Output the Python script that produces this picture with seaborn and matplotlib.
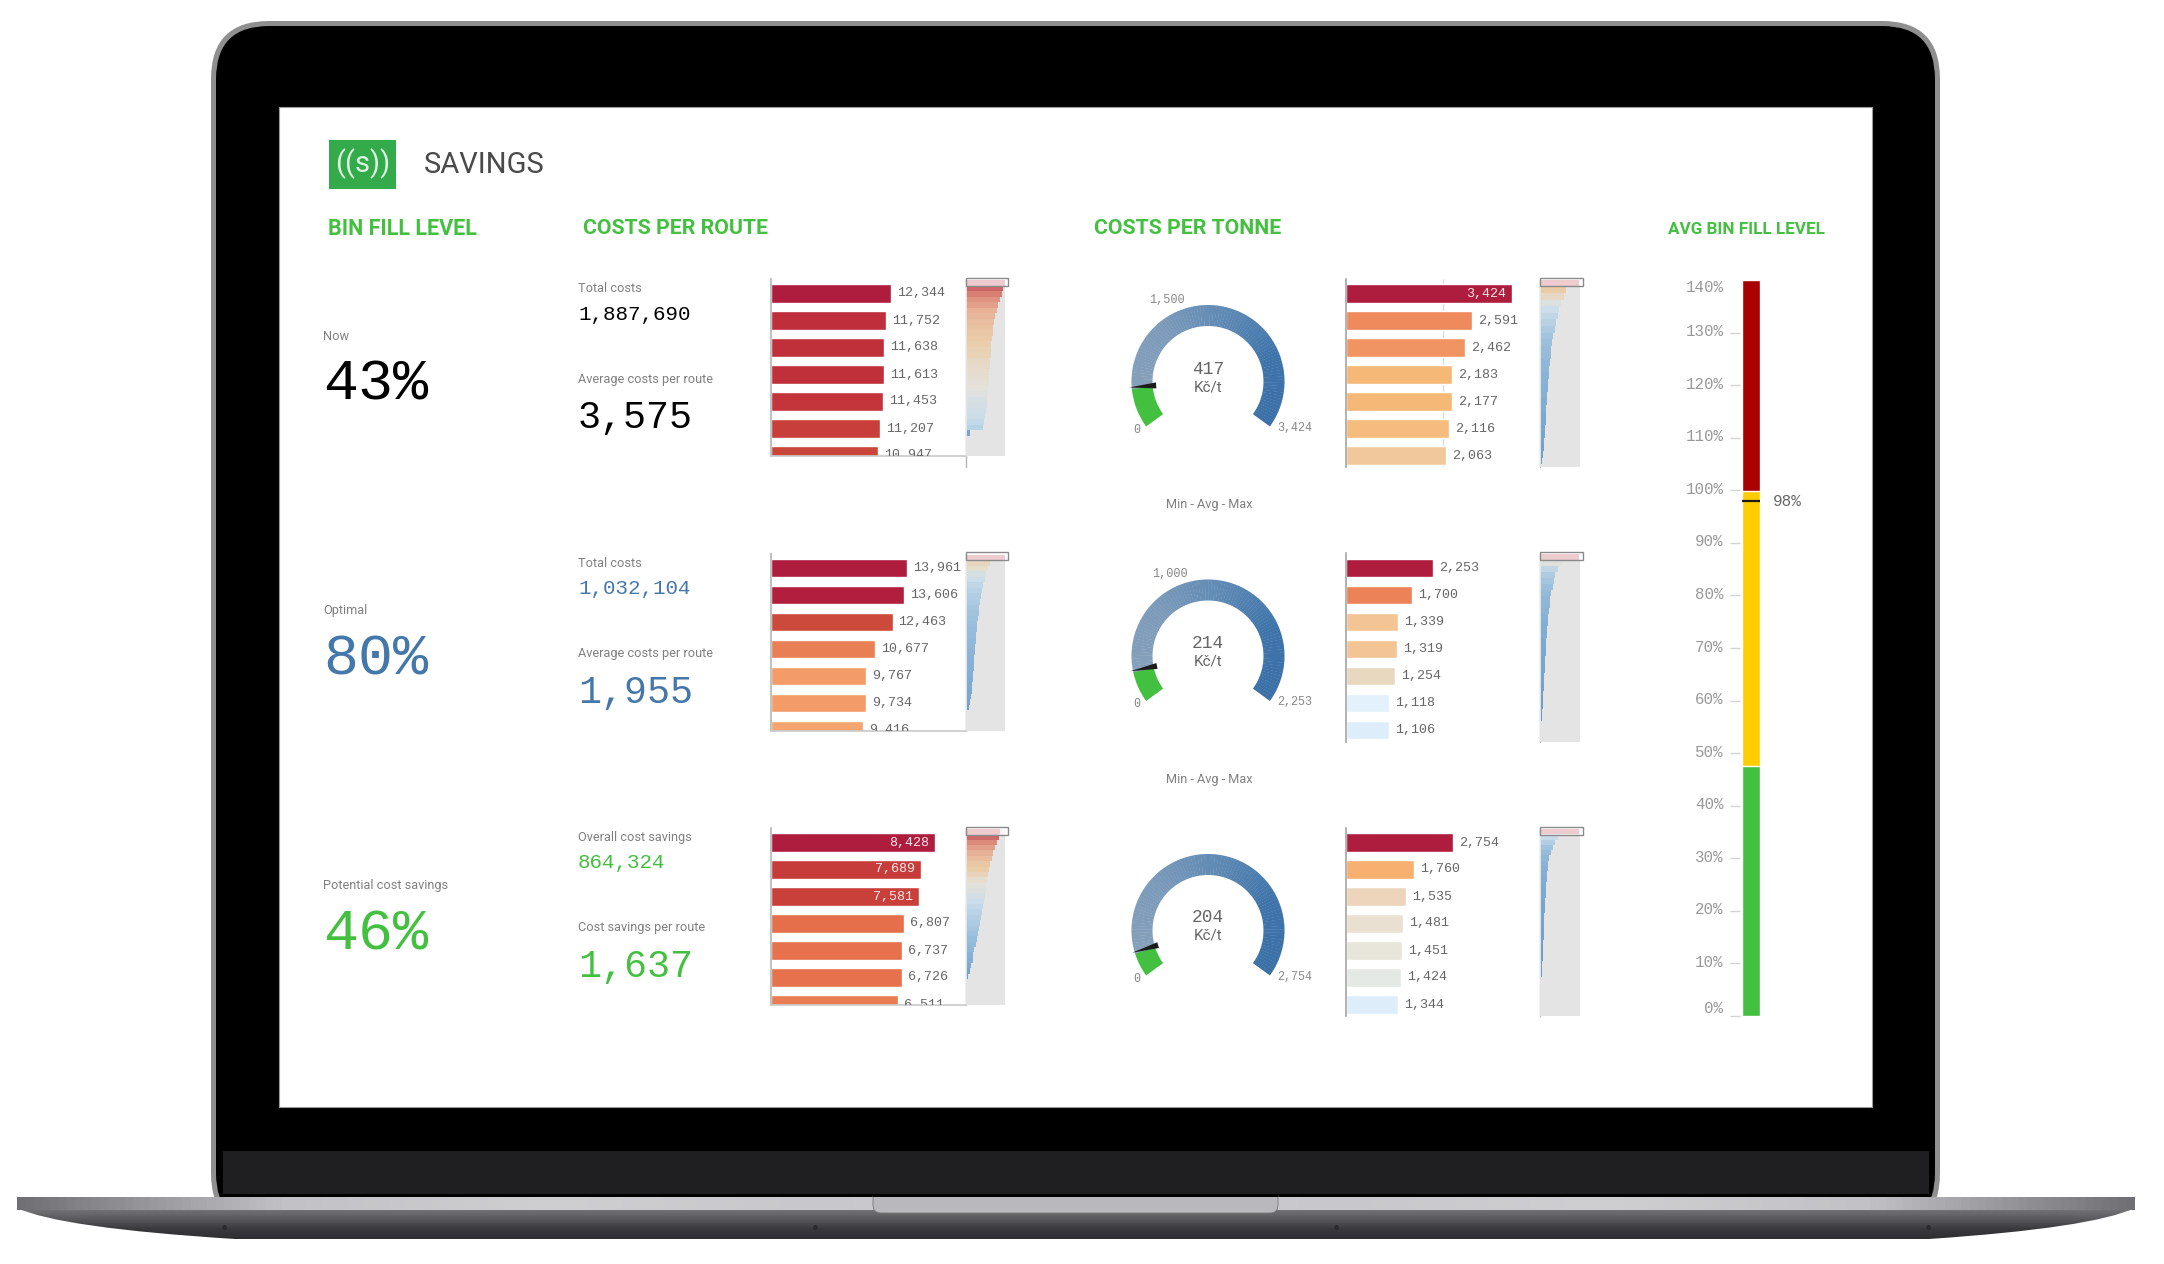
import numpy as np
import matplotlib
matplotlib.use('Agg')
import matplotlib.pyplot as plt
import seaborn as sns
from matplotlib.colors import LinearSegmentedColormap, TwoSlopeNorm, to_hex
from matplotlib.patches import FancyBboxPatch, PathPatch, Polygon, Rectangle, Wedge
from matplotlib.path import Path
from matplotlib.transforms import ScaledTranslation

W, H = 2164, 1264
MONO = 'Liberation Mono'
SANS = 'Roboto'
GREEN = '#44c040'
BLUE = '#4477aa'
ROW_STEP = 274.5

# kpi column
fill_labels = ['Now', 'Optimal', 'Potential cost savings']
fill_values = ['43%', '80%', '46%']
row_colors = ['#000000', BLUE, GREEN]
total_labels = ['Total costs', 'Total costs', 'Overall cost savings']
total_values = ['1,887,690', '1,032,104', '864,324']
avg_labels = ['Average costs per route', 'Average costs per route', 'Cost savings per route']
avg_values = ['3,575', '1,955', '1,637']

# bar charts
route_values = [
    [12344, 11752, 11638, 11613, 11453, 11207, 10947],
    [13961, 13606, 12463, 10677, 9767, 9734, 9416],
    [8428, 7689, 7581, 6807, 6737, 6726, 6511],
]
route_colors = [
    ['#ae1c3e', '#bf2e3b', '#c0303b', '#c0303b', '#c3343b', '#c73e3a', '#c9463b'],
    ['#ae1c3e', '#b21f3e', '#cc4a3b', '#e87f55', '#f39c68', '#f39c68', '#f4a46f'],
    ['#ae1c3e', '#c63c3a', '#c9403a', '#e56f4b', '#e6714c', '#e6714c', '#e87c52'],
]
route_max = [20000, 20000, 10000]
route_inside = [0, 0, 3]

tonne_values = [
    [3424, 2591, 2462, 2183, 2177, 2116, 2063],
    [2253, 1700, 1339, 1319, 1254, 1118, 1106],
    [2754, 1760, 1535, 1481, 1451, 1424, 1344],
]
tonne_colors = [
    ['#ae1c3e', '#ee8a5c', '#f09562', '#f6b876', '#f6b876', '#f5bc7e', '#f1c89c'],
    ['#ae1c3e', '#ec8257', '#f3c595', '#f3c595', '#e8d8c0', '#e2f1fb', '#ddeefa'],
    ['#ae1c3e', '#f7b070', '#ecd5bb', '#e9e0d2', '#e8e5da', '#e5e9e6', '#ddeefa'],
]
tonne_max = [4000, 5000, 5000]
tonne_inside = [1, 0, 0]
tonne_grid = [[2000], [], []]

# overview strips next to the bar charts, read row by row
route_mini = [
    [12344, 11900, 11350, 10690, 10250, 9700, 9260, 8930, 8600, 8380, 8150, 7930, 7820, 7710,
     7490, 7380, 7270, 7160, 7050, 6940, 6720, 6500, 6390, 6170, 5950, 5620, 5070, 990],
    [13961, 8330, 7860, 6920, 6450, 5870, 5510, 5160, 4810, 4460, 4220, 3990, 3750, 3520,
     3400, 3170, 3050, 2820, 2580, 2460, 2350, 2110, 1990, 1760, 1640, 1410, 1170, 590],
    [8428, 8080, 7570, 7140, 6710, 6280, 5930, 5680, 5420, 5160, 4900, 4730, 4470, 4210,
     3960, 3700, 3440, 3180, 2920, 2670, 2410, 2150, 1890, 1630, 1380, 1030, 690, 170],
]
route_mini_mid = [7000, 7600, 5000]
route_mini_fill = [0.885, 0.885, 0.853]
route_mini_right = [1.02, 1.02, 1.17]

tonne_mini = [
    [3424, 2217, 2020, 1790, 1630, 1470, 1340, 1210, 1080, 980, 910, 850, 780, 720,
     680, 620, 590, 550, 490, 460, 420, 390, 330, 290, 260, 200, 130, 70],
    [2253, 1270, 1000, 840, 745, 670, 590, 530, 490, 450, 410, 370, 350, 330,
     290, 270, 250, 235, 215, 195, 175, 155, 135, 120, 100, 80, 40, 20],
    [2754, 1220, 990, 820, 680, 590, 520, 470, 420, 380, 350, 330, 305, 280,
     260, 235, 210, 205, 190, 165, 160, 140, 120, 115, 95, 70, 50, 25],
]
tonne_mini_mid = [1900, 1300, 1500]
tonne_mini_fill = [0.985, 0.89, 0.79]

# gauges
gauge_avg = [417, 214, 204]
gauge_max = [3424, 2253, 2754]
gauge_mid = [1500, 1000, None]
gauge_notes = ['Min - Avg - Max', 'Min - Avg - Max', None]

# thermometer
level_ticks = list(range(0, 150, 10))
level_limits = [140, 99.8, 47.6]
level_colors = ['#ab0000', '#ffcc00', GREEN]
level_now = 98

sns.set_theme(style='white')
plt.rcParams['font.family'] = [SANS, 'DejaVu Sans']

fig = plt.figure(figsize=(W / 100, H / 100), dpi=100, facecolor='white')
frame = fig.add_axes([0, 0, 1, 1], zorder=0)

mini_cmap = LinearSegmentedColormap.from_list('mini', [
    (0, '#4f8fc6'), (0.25, '#8db8da'), (0.42, '#c5dcec'), (0.5, '#e4e2d8'),
    (0.6, '#ecc89e'), (0.75, '#e8a98a'), (0.9, '#d8705f'), (1, '#bf3a4a')])


def px_axes(x0, y0, x1, y1, zorder=2):
    return fig.add_axes([x0 / W, 1 - y1 / H, (x1 - x0) / W, (y1 - y0) / H], zorder=zorder)


def label(x, y, s, size, color='#808080', family=SANS, **kw):
    kw.setdefault('va', 'center')
    frame.text(x, y, s, fontsize=size, color=color, family=family, zorder=20, **kw)


def gradient(x0, x1, y0, y1, colors, vertical=False, zorder=3, clip=None):
    cmap = LinearSegmentedColormap.from_list('g', colors)
    ramp = np.linspace(0, 1, 256).reshape(-1, 1) if vertical else np.linspace(0, 1, 256).reshape(1, -1)
    im = frame.imshow(ramp, extent=[x0, x1, y1, y0], aspect='auto', cmap=cmap, zorder=zorder)
    if clip is not None:
        im.set_clip_path(clip)
    return im


def draw_laptop():
    frame.add_patch(FancyBboxPatch((211, 21), 1729, 1210, boxstyle='round,pad=0,rounding_size=58',
                                   fc='#8f8f8f', ec='none', zorder=1))
    frame.add_patch(FancyBboxPatch((216, 26), 1719, 1200, boxstyle='round,pad=0,rounding_size=53',
                                   fc='#000000', ec='none', zorder=1))
    frame.add_patch(Rectangle((279, 107), 1593, 1000, fc='white', ec='#9a9a9a', lw=0.8, zorder=2))
    # base
    shape = Path([(17, 1208), (60, 1228), (235, 1239), (1929, 1239), (2092, 1228), (2135, 1208), (17, 1208)],
                 [Path.MOVETO, Path.CURVE3, Path.CURVE3, Path.LINETO, Path.CURVE3, Path.CURVE3, Path.CLOSEPOLY])
    patch = PathPatch(shape, fc='none', ec='none', transform=frame.transData)
    frame.add_patch(patch)
    gradient(17, 2135, 1208, 1239, ['#77777a', '#5c5c60', '#3a3a3e', '#2e2e32'], vertical=True, clip=patch)
    frame.add_patch(Rectangle((0, 1239), W, 25, fc='white', ec='none', zorder=4))
    gradient(17, 2135, 1197, 1210, ['#707074', '#c2c2c6', '#cfcfd2', '#c8c8cc', '#cfcfd2', '#c8c8cc',
                                    '#cfcfd2', '#c2c2c6', '#707074'], zorder=5)
    frame.add_patch(FancyBboxPatch((873, 1190), 405, 23, boxstyle='round,pad=0,rounding_size=8',
                                   fc='#b9b9bd', ec='#77777a', lw=0.6, zorder=6))
    frame.add_patch(Rectangle((873, 1180), 405, 17, fc='#000000', ec='none', zorder=7))
    frame.add_patch(Rectangle((223, 1151), 1706, 43, fc='#1f1f22', ec='none', zorder=8))
    for sx in [224, 815, 1336, 1928]:
        frame.plot([sx], [1227], 'o', ms=2.5, color='#2a2a2d', zorder=9)
    frame.set_xlim(0, W)
    frame.set_ylim(H, 0)
    frame.axis('off')


def draw_bars(x0, x1, y0, y1, values, colors, xmax, inside, grid=()):
    ax = px_axes(x0, y0, x1, y1)
    names = [f'r{i}' for i in range(len(values))]
    sns.barplot(x=values, y=names, hue=names, palette=colors, dodge=False, legend=False,
                width=0.69, saturation=1, orient='h', ax=ax)
    for v in grid:
        ax.axvline(v, color='#dddddd', lw=1, zorder=0)
    ax.set_xlim(0, xmax)
    ax.set_ylim((y1 - 293.5 - (y0 - 279)) / 27, -(293.5 - 279) / 27)
    ax.set_xticks([])
    ax.set_yticks([])
    ax.set_xlabel('')
    ax.set_ylabel('')
    ax.patch.set_alpha(0)
    pad = xmax * 6 / (x1 - x0)
    for i, v in enumerate(values):
        if i < inside:
            ax.text(v - pad, i, f'{v:,}', ha='right', va='center', fontsize=9.6, color='#f7eaea',
                    family=MONO, clip_on=True)
        else:
            ax.text(v + pad, i, f'{v:,}', ha='left', va='center', fontsize=9.6, color='#666666',
                    family=MONO, clip_on=True)
    return ax


def draw_mini(x0, x1, y0, y1, values, mid, fill, right):
    ax = px_axes(x0, y0, x1, y1)
    ax.set_facecolor('#e4e4e4')
    vmax = values[0]
    norm = TwoSlopeNorm(vmin=0, vcenter=mid, vmax=vmax)
    colors = [to_hex(mini_cmap(norm(v))) for v in values]
    names = [f'm{i}' for i in range(len(values))]
    sns.barplot(x=values, y=names, hue=names, palette=colors, dodge=False, legend=False,
                width=1, saturation=1, orient='h', alpha=0.85, linewidth=0, ax=ax)
    ax.set_xlim(-0.035 * vmax, right * vmax)
    ax.set_ylim(len(values) / fill - 0.5, -0.5)
    ax.set_xticks([])
    ax.set_yticks([])
    ax.set_xlabel('')
    ax.set_ylabel('')
    for side in ax.spines.values():
        side.set_visible(False)
    frame.plot([x0, x0], [y0, max(y1, 467 + (y1 - 456) if y1 < 467 else y1)], color='#b5b5b5', lw=1, zorder=3)
    # selection handle
    box = Rectangle((x0 / W, 1 - (y0 + 5.5) / H), (x1 + 2.5 - x0) / W, 7.5 / H, transform=fig.transFigure,
                    fc=(1, 1, 1, 0.7), ec='#8a8a8a', lw=1, zorder=6)
    fig.add_artist(box)


def draw_gauge(cx, cy, avg, vmax, mid):
    ax = px_axes(cx - 100, cy - 100, cx + 100, cy + 100)
    ax.set_xlim(-100, 100)
    ax.set_ylim(-100, 100)
    ax.axis('off')
    R, thick = 76.5, 21

    def angle(v):
        return 216 - v / vmax * 252

    ax.add_patch(Wedge((0, 0), R, angle(avg), angle(0), width=thick, fc=GREEN, ec='none'))
    cmap = LinearSegmentedColormap.from_list('arc', ['#86a0ba', '#7c9aba', '#5f8ab4', '#3f74aa', '#3c71a8'])
    steps = np.linspace(avg, vmax, 90)
    for i in range(len(steps) - 1):
        ax.add_patch(Wedge((0, 0), R, angle(steps[i + 1]), angle(steps[i]) + 0.3, width=thick,
                           fc=cmap(i / 88), ec='none'))
    a = np.deg2rad(angle(avg) - 1)
    d = np.array([np.cos(a), np.sin(a)])
    n = np.array([-d[1], d[0]])
    ax.add_patch(Polygon([d * 79, d * 52 + n * 3, d * 52 - n * 3], fc='#1c1c1c', ec='none', zorder=5))
    ax.text(0, 12.5, f'{avg}', ha='center', va='center', fontsize=12.9, color='#666666', family=MONO)
    ax.text(0, -5.5, 'Kč/t', ha='center', va='center', fontsize=11, color='#666666', family=SANS)
    ax.text(-71, -48.5, '0', ha='center', va='center', fontsize=8.4, color='#888888', family=MONO)
    ax.text(69, -46.5, f'{vmax:,}', ha='left', va='center', fontsize=8.4, color='#888888', family=MONO)
    if mid is not None:
        m = np.deg2rad(angle(mid))
        ax.text(85 * np.cos(m), 85 * np.sin(m), f'{mid:,}', ha='right', va='center', fontsize=8.6,
                color='#888888', family=MONO)


def draw_level():
    ax = px_axes(1740, 280, 1760, 1016)
    for lim, col in zip(level_limits, level_colors):
        sns.barplot(x=['fill'], y=[lim], color=col, width=1, saturation=1, ax=ax)
    ax.plot([-0.5, 0.5], [level_now, level_now], color='#1a1a1a', lw=1.6, solid_capstyle='butt')
    ax.set_xlim(-0.611, 0.5)
    ax.set_ylim(0, 140)
    ax.set_xticks([])
    ax.set_xlabel('')
    ax.set_ylabel('')
    ax.set_yticks(level_ticks)
    ax.set_yticklabels([f'{t}%' for t in level_ticks], family=MONO, fontsize=11.3, color='#999999')
    ax.tick_params(axis='y', length=7, width=1, color='#d4d4d4', pad=5, left=True)
    ticks = ax.get_yticklabels()
    for lab in ticks[1:-1]:
        lab.set_transform(lab.get_transform() + ScaledTranslation(0, 0.025, fig.dpi_scale_trans))
    ticks[0].set_va('bottom')
    ticks[-1].set_va('top')
    ax.yaxis.get_major_ticks()[-1].tick1line.set_visible(False)
    ax.patch.set_alpha(0)
    for side in ax.spines.values():
        side.set_visible(False)
    label(1773, 501, f'{level_now}%', 11.5, color='#666666', family=MONO)


draw_laptop()

# header
frame.add_patch(Rectangle((329, 140), 67, 49, fc='#34ab4a', ec='none', zorder=10))
label(362.5, 164, '((s))', 21, color='#dff3e2', ha='center')
label(424, 165, 'SAVINGS', 21, color='#4a4a4a')
label(328, 229, 'BIN FILL LEVEL', 15.5, color=GREEN, fontweight='bold')
label(583, 229, 'COSTS PER ROUTE', 15.3, color=GREEN, fontweight='bold')
label(1094, 229, 'COSTS PER TONNE', 15.3, color=GREEN, fontweight='bold')
label(1668, 230, 'AVG BIN FILL LEVEL', 12.3, color=GREEN, fontweight='bold')

for i in range(3):
    off = ROW_STEP * i
    label(323, 336 + off, fill_labels[i], 9.2)
    label(323, 385 + off, fill_values[i], 42, color=row_colors[i], family=MONO)
    label(578, 289 + off, total_labels[i], 9.2)
    label(578, 314 + off, total_values[i], 15, color=row_colors[i], family=MONO)
    label(578, 379 + off, avg_labels[i], 9.2)
    label(578, 418 + off, avg_values[i], 27.5, color=row_colors[i], family=MONO)

    ax = draw_bars(771, 966, 279 + off, 456 + off, route_values[i], route_colors[i], route_max[i], route_inside[i])
    sns.despine(ax=ax, top=True, right=True)
    ax.spines['left'].set_color('#b8b8b8')
    ax.spines['bottom'].set_color('#cccccc')
    draw_mini(966, 1005.5, 280 + off, 456 + off, route_mini[i], route_mini_mid[i], route_mini_fill[i], route_mini_right[i])

    ax = draw_bars(1346, 1540, 279 + off, 467 + off, tonne_values[i], tonne_colors[i], tonne_max[i], tonne_inside[i], tonne_grid[i])
    sns.despine(ax=ax, top=True, right=True, bottom=True)
    ax.spines['left'].set_color('#a8a8a8')
    draw_mini(1540, 1580, 280 + off, 467 + off, tonne_mini[i], tonne_mini_mid[i], tonne_mini_fill[i], 1.02)

    draw_gauge(1208, 381.5 + off, gauge_avg[i], gauge_max[i], gauge_mid[i])
    if gauge_notes[i]:
        label(1209, 504.5 + off, gauge_notes[i], 9.2, ha='center')

draw_level()

fig.savefig('out.png', dpi=100, facecolor='white')
